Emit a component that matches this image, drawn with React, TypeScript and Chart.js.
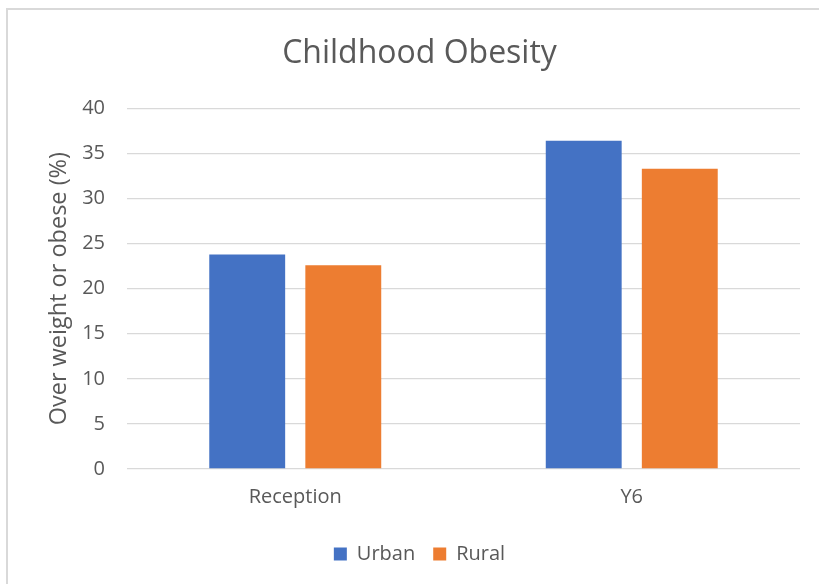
import React, { useEffect, useRef } from "react";
import { Chart, registerables } from "chart.js";

Chart.register(...registerables);

const categories = ["Reception", "Y6"];
const urbanValues = [23.8, 36.4];
const ruralValues = [22.6, 33.3];
const yTicks = [0, 5, 10, 15, 20, 25, 30, 35, 40];

const TEXT = "#595959";
const GRID = "#d9d9d9";
const FONT = "'Open Sans', 'Noto Sans', sans-serif";

export default function App() {
  const canvasRef = useRef<HTMLCanvasElement | null>(null);

  useEffect(() => {
    if (!canvasRef.current) return;
    const chart = new Chart(canvasRef.current, {
      type: "bar",
      data: {
        labels: categories,
        datasets: [
          {
            label: "Urban",
            data: urbanValues,
            backgroundColor: "#4472C4",
            categoryPercentage: 0.571,
            barPercentage: 0.79,
          },
          {
            label: "Rural",
            data: ruralValues,
            backgroundColor: "#ED7D31",
            categoryPercentage: 0.571,
            barPercentage: 0.79,
          },
        ],
      },
      options: {
        animation: false,
        responsive: false,
        maintainAspectRatio: false,
        layout: { padding: { left: 0, right: 0, top: 0, bottom: 10 } },
        plugins: {
          title: {
            display: true,
            text: "Childhood Obesity",
            color: TEXT,
            font: { family: FONT, size: 32, weight: "normal" },
            padding: { top: 35, bottom: 35 },
          },
          legend: {
            position: "bottom",
            labels: {
              color: TEXT,
              font: { family: FONT, size: 20 },
              boxWidth: 13,
              boxHeight: 13,
              padding: 18,
            },
          },
          tooltip: { enabled: false },
        },
        scales: {
          x: {
            grid: { display: false },
            border: { display: false },
            ticks: { color: TEXT, font: { family: FONT, size: 20 }, padding: 8 },
            afterFit: (s: any) => {
              s.height = 57;
            },
          },
          y: {
            min: 0,
            max: 40,
            afterBuildTicks: (s: any) => {
              s.ticks = yTicks.map((v) => ({ value: v }));
            },
            grid: { color: GRID, lineWidth: 1.3, drawTicks: false },
            border: { display: false },
            ticks: { color: TEXT, font: { family: FONT, size: 20 }, padding: 22 },
            title: {
              display: true,
              text: "Over weight or obese (%)",
              color: TEXT,
              font: { family: FONT, size: 23.5 },
              padding: { top: 45.5, bottom: 0 },
            },
            afterFit: (s: any) => {
              s.width = 127;
            },
          },
          spacer: {
            position: "right",
            display: true,
            grid: { display: false },
            border: { display: false },
            ticks: { display: false },
            afterFit: (s: any) => {
              s.width = 39;
            },
          },
        },
      },
    });
    return () => chart.destroy();
  }, []);

  return (
    <div
      style={{
        position: "fixed",
        left: 0,
        top: 0,
        width: 819,
        height: 584,
        overflow: "hidden",
        background: "#fff",
      }}
    >
      <div
        style={{
          position: "absolute",
          left: 6,
          top: 8,
          width: 1000,
          height: 1000,
          border: `2px solid ${GRID}`,
        }}
      />
      <canvas
        ref={canvasRef}
        width={839}
        height={584}
        style={{ position: "absolute", left: 0, top: 0, width: 839, height: 584 }}
      />
    </div>
  );
}
